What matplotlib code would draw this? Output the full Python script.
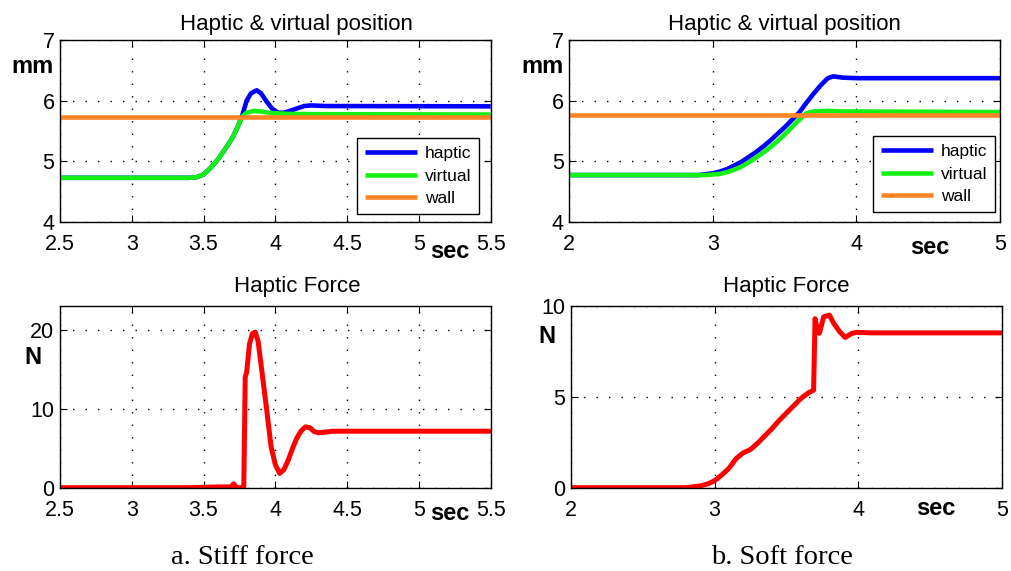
import matplotlib
matplotlib.use("Agg")
import matplotlib.pyplot as plt

plt.rcParams["font.family"] = ["Liberation Sans", "DejaVu Sans"]

# ── stiff wall: position (mm) and force (N) ──────────────────────────────────
stiff_t_haptic = [2.5, 3.40, 3.45, 3.50, 3.55, 3.60, 3.65, 3.70, 3.74, 3.77,
                  3.80, 3.83, 3.87, 3.90, 3.94, 3.98, 4.02, 4.06, 4.10, 4.15,
                  4.20, 4.25, 4.35, 5.5]
stiff_haptic = [4.725, 4.725, 4.735, 4.78, 4.89, 5.03, 5.20, 5.38, 5.58, 5.76,
                6.00, 6.12, 6.17, 6.12, 5.98, 5.86, 5.80, 5.80, 5.83, 5.87,
                5.91, 5.92, 5.91, 5.905]
stiff_t_virtual = [2.5, 3.40, 3.45, 3.50, 3.55, 3.60, 3.65, 3.70, 3.74, 3.77,
                   3.80, 3.85, 3.90, 3.95, 4.00, 4.10, 4.30, 5.5]
stiff_virtual = [4.725, 4.725, 4.735, 4.78, 4.89, 5.03, 5.20, 5.38, 5.58, 5.74,
                 5.80, 5.83, 5.82, 5.80, 5.79, 5.78, 5.775, 5.77]
stiff_wall = 5.725

stiff_t_force = [2.5, 3.40, 3.60, 3.69, 3.71, 3.73, 3.78, 3.79, 3.80, 3.82,
                 3.84, 3.86, 3.88, 3.905, 3.94, 3.97, 4.00, 4.03, 4.06, 4.09,
                 4.12, 4.15, 4.18, 4.21, 4.24, 4.27, 4.30, 4.40, 5.5]
stiff_force = [0.0, 0.0, 0.1, 0.1, 0.5, 0.0, 0.0, 14.0, 14.6, 18.2,
               19.5, 19.7, 18.5, 14.9, 9.8, 5.2, 2.9, 1.8, 2.3, 3.5,
               5.0, 6.3, 7.2, 7.7, 7.6, 7.1, 6.95, 7.15, 7.15]

# ── soft wall: position (mm) and force (N) ───────────────────────────────────
soft_t_haptic = [2.0, 2.90, 3.00, 3.05, 3.10, 3.15, 3.20, 3.25, 3.30, 3.35,
                 3.40, 3.45, 3.50, 3.55, 3.60, 3.65, 3.70, 3.75, 3.80, 3.84,
                 3.90, 4.0, 5.0]
soft_haptic = [4.77, 4.77, 4.80, 4.83, 4.87, 4.93, 4.99, 5.07, 5.15, 5.24,
               5.34, 5.45, 5.56, 5.68, 5.80, 5.96, 6.11, 6.25, 6.37, 6.40,
               6.38, 6.37, 6.37]
soft_t_virtual = [2.0, 2.95, 3.05, 3.10, 3.15, 3.20, 3.25, 3.30, 3.35, 3.40,
                  3.45, 3.50, 3.55, 3.60, 3.65, 3.70, 3.80, 3.90, 4.0, 5.0]
soft_virtual = [4.77, 4.77, 4.79, 4.82, 4.86, 4.91, 4.98, 5.06, 5.14, 5.23,
                5.33, 5.44, 5.56, 5.68, 5.79, 5.82, 5.83, 5.82, 5.82, 5.81]
soft_wall = 5.77

soft_t_force = [2.0, 2.80, 2.90, 2.95, 3.00, 3.05, 3.10, 3.15, 3.20, 3.25,
                3.30, 3.35, 3.40, 3.45, 3.50, 3.55, 3.60, 3.65, 3.69, 3.70,
                3.72, 3.73, 3.76, 3.80, 3.83, 3.87, 3.91, 3.955, 3.99, 4.10, 5.0]
soft_force = [0.0, 0.0, 0.1, 0.2, 0.38, 0.7, 1.06, 1.6, 1.92, 2.1,
              2.45, 2.85, 3.25, 3.7, 4.1, 4.5, 4.9, 5.2, 5.37, 9.3,
              8.6, 8.5, 9.4, 9.5, 9.05, 8.6, 8.27, 8.49, 8.55, 8.52, 8.52]

stiff_xticks = [2.5, 3, 3.5, 4, 4.5, 5, 5.5]
stiff_xlabels = ["2.5", "3", "3.5", "4", "4.5", "5", "5.5"]
soft_xticks = [2, 3, 4, 5]
soft_xlabels = ["2", "3", "4", "5"]

BLUE = "#0000ff"
GREEN = "#14f014"
ORANGE = "#ff8426"
RED = "#ff0000"
TICK_FS = 15.5
TITLE_FS = 16
LABEL_FS = 17


def matlab_style(ax, xticks, xlabels, yticks, xpad):
    ax.set_xticks(xticks)
    ax.set_xticklabels(xlabels)
    ax.set_yticks(yticks)
    ax.tick_params(direction="in", top=True, right=True, length=5,
                   width=0.8, labelsize=TICK_FS)
    ax.tick_params(axis="x", pad=xpad)
    ax.tick_params(axis="y", pad=4)
    ax.grid(True, color="black", linestyle=(0, (1, 8)), linewidth=1.0)
    for sp in ax.spines.values():
        sp.set_linewidth(1.0)
        sp.set_color("black")


fig = plt.figure(figsize=(10.12, 5.71), dpi=100)
ax_tl = fig.add_axes([0.0593, 0.6117, 0.4256, 0.3182])
ax_tr = fig.add_axes([0.5626, 0.6117, 0.4256, 0.3182])
ax_bl = fig.add_axes([0.0593, 0.1459, 0.4256, 0.3182])
ax_br = fig.add_axes([0.5642, 0.1459, 0.4256, 0.3182])

# position panels
for ax, th, h, tv, v, wall, xlim in [
        (ax_tl, stiff_t_haptic, stiff_haptic, stiff_t_virtual, stiff_virtual,
         stiff_wall, (2.5, 5.5)),
        (ax_tr, soft_t_haptic, soft_haptic, soft_t_virtual, soft_virtual,
         soft_wall, (2.0, 5.0))]:
    ax.plot(th, h, color=BLUE, linewidth=3.3, label="haptic",
            solid_capstyle="butt")
    ax.plot(tv, v, color=GREEN, linewidth=3.3, label="virtual",
            solid_capstyle="butt")
    ax.plot(xlim, [wall, wall], color=ORANGE, linewidth=3.3, label="wall",
            solid_capstyle="butt")
    ax.set_xlim(*xlim)
    ax.set_ylim(4, 7)

matlab_style(ax_tl, stiff_xticks, stiff_xlabels, [4, 5, 6, 7], 8.7)
matlab_style(ax_tr, soft_xticks, soft_xlabels, [4, 5, 6, 7], 8.7)

leg_kw = dict(fontsize=12.5, frameon=True, fancybox=False, edgecolor="black",
              handlelength=3.0, handletextpad=0.45, labelspacing=0.42,
              borderpad=0.45, borderaxespad=0.0, loc="lower right")
for ax, anchor in [(ax_tl, (0.973, 0.042)), (ax_tr, (0.988, 0.053))]:
    leg = ax.legend(bbox_to_anchor=anchor, **leg_kw)
    leg.get_frame().set_linewidth(1.0)
    leg.get_frame().set_alpha(1.0)

# force panels
ax_bl.plot(stiff_t_force, stiff_force, color=RED, linewidth=3.6)
ax_bl.set_xlim(2.5, 5.5)
ax_bl.set_ylim(0, 23)
matlab_style(ax_bl, stiff_xticks, stiff_xlabels, [0, 10, 20], 8.7)

ax_br.plot(soft_t_force, soft_force, color=RED, linewidth=3.6)
ax_br.set_xlim(2.0, 5.0)
ax_br.set_ylim(0, 10)
matlab_style(ax_br, soft_xticks, soft_xlabels, [0, 5, 10], 8.7)

# titles
ax_tl.set_title("Haptic & virtual position", fontsize=TITLE_FS, x=0.55, pad=7)
ax_tr.set_title("Haptic & virtual position", fontsize=TITLE_FS, pad=7)
ax_bl.set_title("Haptic Force", fontsize=TITLE_FS, x=0.55, pad=10)
ax_br.set_title("Haptic Force", fontsize=TITLE_FS, pad=10)

# unit labels
bold = dict(fontsize=LABEL_FS, fontweight="bold", ha="center", va="baseline")
ax_tl.text(-0.065, 0.817, "mm", transform=ax_tl.transAxes, **bold)
ax_tr.text(-0.063, 0.817, "mm", transform=ax_tr.transAxes, **bold)
ax_bl.text(-0.062, 0.681, "N", transform=ax_bl.transAxes, **bold)
ax_br.text(-0.055, 0.795, "N", transform=ax_br.transAxes, **bold)
ax_tl.text(0.9055, -0.201, "sec", transform=ax_tl.transAxes, **bold)
ax_tr.text(0.8375, -0.178, "sec", transform=ax_tr.transAxes, **bold)
ax_bl.text(0.9055, -0.178, "sec", transform=ax_bl.transAxes, **bold)
ax_br.text(0.847, -0.151, "sec", transform=ax_br.transAxes, **bold)

# captions
fig.text(242.5 / 1012, 0.0123, "a. Stiff force", ha="center", va="baseline",
         fontsize=20.5, family=["Liberation Serif", "DejaVu Serif"])
fig.text(781.5 / 1012, 0.0123, "b. Soft force", ha="center", va="baseline",
         fontsize=20.5, family=["Liberation Serif", "DejaVu Serif"])

fig.savefig("out.png", dpi=100)
